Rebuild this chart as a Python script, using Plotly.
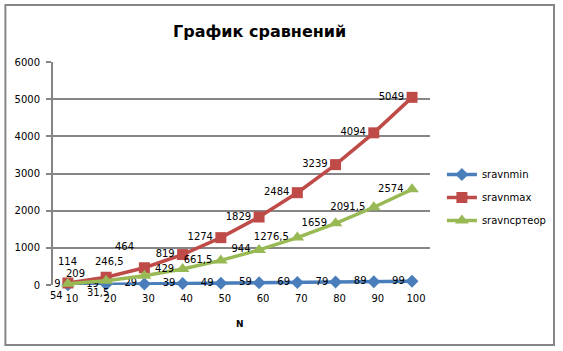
import plotly.graph_objects as go

N = [10, 20, 30, 40, 50, 60, 70, 80, 90, 100]
sravnmin = [9, 19, 29, 39, 49, 59, 69, 79, 89, 99]
sravnmax = [54, 209, 464, 819, 1274, 1829, 2484, 3239, 4094, 5049]
sravncpteop = [31.5, 114, 246.5, 429, 661.5, 944, 1276.5, 1659, 2091.5, 2574]
names = ["sravnmin", "sravnmax", "sravnсртеор"]
title = "График сравнений"

def fmt(v):
    return ("%g" % v).replace(".", ",")

W, H = 563, 351
L, R, T, B = 53, 130, 62, 66
pw, ph = W - L - R, H - T - B

colors = ["#4A7EBB", "#BE4B48", "#98B954"]
symbols = ["diamond", "square", "triangle-up"]
sizes = [10, 11, 12]

# labels placed manually (index -> (xanchor, xshift, yshift)) for the crowded first points
manual = [
    {},
    {0: ("right", -3, -13), 1: ("right", -19, 4), 2: ("right", -8, 21)},
    {0: ("left", 17, -9), 1: ("right", -27, 19), 2: ("right", -18, 14)},
]

def px2x(px):
    return (px - L) / pw
def px2y(py):
    return (H - B - py) / ph

fig = go.Figure()
annotations = []
for k, (ys, c, sym, sz, nm) in enumerate(zip([sravnmin, sravnmax, sravncpteop], colors, symbols, sizes, names)):
    texts = [("" if i in manual[k] else fmt(v)) for i, v in enumerate(ys)]
    fig.add_trace(go.Scatter(
        x=N, y=ys, name=nm, mode="lines+markers+text", legendgroup=nm,
        line=dict(color=c, width=3.5),
        marker=dict(symbol=sym, size=sz, color=c),
        text=texts, textposition="middle left",
        textfont=dict(family="DejaVu Sans", size=10, color="black"),
        cliponaxis=False,
    ))
    for i, (xa, dx, dy) in manual[k].items():
        annotations.append(dict(x=N[i], y=ys[i], xref="x", yref="y", text=fmt(ys[i]),
                                showarrow=False, xanchor=xa, yanchor="middle",
                                xshift=dx, yshift=dy,
                                font=dict(family="DejaVu Sans", size=10, color="black")))

annotations += [
    dict(text="<b>" + title + "</b>", x=px2x(261), y=px2y(31), xref="paper", yref="paper",
         showarrow=False, font=dict(family="DejaVu Sans", size=16, color="black"),
         xanchor="center", yanchor="middle"),
    dict(text="<b>N</b>", x=px2x(241), y=px2y(324), xref="paper", yref="paper",
         showarrow=False, font=dict(family="DejaVu Sans", size=9, color="black"),
         xanchor="center", yanchor="middle"),
]

fig.update_layout(
    width=W, height=H,
    margin=dict(l=L, r=R, t=T, b=B),
    paper_bgcolor="white", plot_bgcolor="white",
    font=dict(family="DejaVu Sans", size=10, color="black"),
    showlegend=True,
    legend=dict(x=px2x(445), y=px2y(160), xanchor="left", yanchor="top",
                font=dict(family="DejaVu Sans", size=10, color="black"),
                tracegroupgap=4, itemwidth=30, bgcolor="rgba(0,0,0,0)"),
    annotations=annotations,
    shapes=[
        dict(type="rect", xref="paper", yref="paper",
             x0=px2x(5), x1=px2x(558), y0=px2y(345), y1=px2y(5),
             line=dict(color="#868686", width=2), layer="below"),
    ],
)
fig.update_xaxes(range=[6.1, 104.7], tickvals=N, ticktext=[str(n) for n in N],
                 showgrid=False, zeroline=False, showline=False, ticks="",
                 tickfont=dict(size=10), ticklabelshift=4, ticklabelstandoff=6)
fig.update_yaxes(range=[0, 6000], dtick=1000, showgrid=True, gridcolor="#868686", gridwidth=2,
                 zeroline=False, showline=True, linecolor="#868686", linewidth=2,
                 ticks="outside", ticklen=5, tickcolor="#868686", tickwidth=2,
                 tickfont=dict(size=10), ticklabelstandoff=4)
fig.write_html("out.html")
